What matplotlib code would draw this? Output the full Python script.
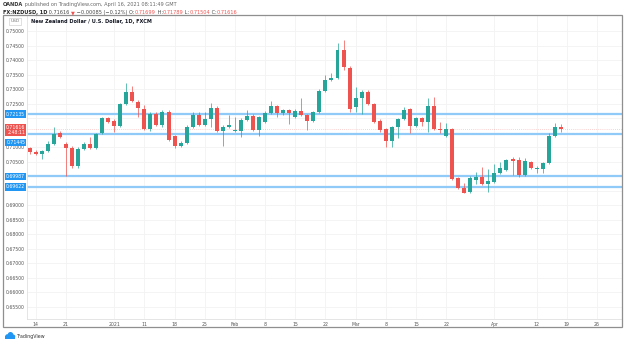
import numpy as np
import pandas as pd
import matplotlib.pyplot as plt
import matplotlib.transforms as mtransforms
from matplotlib.patches import Rectangle, Circle

# NZD/USD daily candles, Dec 11 2020 .. Apr 16 2021
opens = [
    0.70955, 0.70838, 0.70769, 0.70862, 0.71103, 0.71472, 0.71103, 0.70955, 0.70345, 0.70921,
    0.71103, 0.70955, 0.71472, 0.71990, 0.71907, 0.71734, 0.72483, 0.72886, 0.72562, 0.72300,
    0.71610, 0.72138, 0.71759, 0.72207, 0.71379, 0.71045, 0.71148, 0.71700, 0.72103, 0.71759,
    0.71966, 0.72334, 0.71562, 0.71700, 0.71552, 0.71562, 0.71931, 0.72079, 0.71586, 0.71872,
    0.72183, 0.72414, 0.72162, 0.72276, 0.72045, 0.72252, 0.72103, 0.71907, 0.72197, 0.72921,
    0.73310, 0.73390, 0.74345, 0.73734, 0.72369, 0.72679, 0.72907, 0.72483, 0.71907, 0.71610,
    0.71207, 0.71679, 0.71955, 0.72300, 0.71724, 0.71990, 0.71852, 0.72424, 0.71621, 0.71390,
    0.71621, 0.69921, 0.69597, 0.69438, 0.69862, 0.69955, 0.69724, 0.69803, 0.70093, 0.70207,
    0.70576, 0.70552, 0.70034, 0.70493, 0.70241, 0.70241, 0.70438, 0.71379, 0.71699]
highs = [
    0.71010, 0.70897, 0.70897, 0.71207, 0.71700, 0.71562, 0.71172, 0.71034, 0.71000, 0.71183,
    0.71355, 0.71483, 0.72034, 0.72045, 0.71966, 0.72517, 0.73197, 0.73114, 0.72621, 0.72448,
    0.72207, 0.72207, 0.72276, 0.72276, 0.71414, 0.71207, 0.71759, 0.72217, 0.72197, 0.72197,
    0.72507, 0.72414, 0.71759, 0.72103, 0.72045, 0.72000, 0.72276, 0.72138, 0.72069, 0.72241,
    0.72597, 0.72448, 0.72321, 0.72310, 0.72310, 0.72679, 0.72138, 0.72241, 0.73000, 0.73483,
    0.73541, 0.74597, 0.74690, 0.73793, 0.73079, 0.72966, 0.72966, 0.72517, 0.71966, 0.71655,
    0.71724, 0.72000, 0.72369, 0.72345, 0.72034, 0.72034, 0.72679, 0.72734, 0.71872, 0.71817,
    0.71655, 0.69976, 0.69748, 0.70000, 0.70148, 0.70300, 0.70231, 0.70414, 0.70493, 0.70586,
    0.70666, 0.70666, 0.70610, 0.70534, 0.70345, 0.70493, 0.71493, 0.71817, 0.71789]
lows = [
    0.70759, 0.70724, 0.70576, 0.70828, 0.71069, 0.71310, 0.70000, 0.70276, 0.70276, 0.70897,
    0.70931, 0.70931, 0.71448, 0.71828, 0.71528, 0.71690, 0.72448, 0.72552, 0.72045, 0.71586,
    0.71552, 0.71724, 0.71690, 0.71207, 0.70955, 0.71000, 0.71103, 0.71655, 0.71724, 0.71724,
    0.71700, 0.71528, 0.71045, 0.71655, 0.71517, 0.71355, 0.71897, 0.71552, 0.71379, 0.71828,
    0.72138, 0.72024, 0.72103, 0.71783, 0.72000, 0.72069, 0.71586, 0.71862, 0.72172, 0.72897,
    0.73276, 0.73345, 0.73655, 0.72217, 0.72217, 0.72138, 0.72448, 0.71828, 0.71528, 0.70990,
    0.71010, 0.71300, 0.71931, 0.71493, 0.71690, 0.71724, 0.71528, 0.71586, 0.71493, 0.71345,
    0.69862, 0.69552, 0.69397, 0.69414, 0.69724, 0.69690, 0.69459, 0.69759, 0.70069, 0.70172,
    0.70034, 0.69955, 0.70000, 0.70241, 0.70114, 0.70093, 0.70414, 0.71345, 0.71504]
closes = [
    0.70817, 0.70769, 0.70862, 0.71093, 0.71448, 0.71355, 0.70966, 0.70345, 0.70921, 0.71103,
    0.70955, 0.71448, 0.71990, 0.71872, 0.71734, 0.72483, 0.72907, 0.72597, 0.72334, 0.71610,
    0.72138, 0.71759, 0.72207, 0.71241, 0.71045, 0.71148, 0.71700, 0.72103, 0.71759, 0.71966,
    0.72334, 0.71562, 0.71700, 0.71759, 0.71586, 0.71931, 0.72079, 0.71586, 0.72024, 0.72183,
    0.72414, 0.72162, 0.72276, 0.72183, 0.72252, 0.72103, 0.71907, 0.72197, 0.72941, 0.73310,
    0.73390, 0.74345, 0.73748, 0.72300, 0.72679, 0.72907, 0.72483, 0.71872, 0.71586, 0.71207,
    0.71679, 0.71955, 0.72276, 0.71724, 0.71990, 0.71872, 0.72424, 0.71621, 0.71586, 0.71621,
    0.69897, 0.69576, 0.69424, 0.69941, 0.69955, 0.69724, 0.69828, 0.70093, 0.70266, 0.70552,
    0.70528, 0.70034, 0.70517, 0.70266, 0.70276, 0.70438, 0.71379, 0.71700, 0.71616]

# horizontal support / resistance levels
levels = [0.72135, 0.71445, 0.69987, 0.69622]
last_price = 0.71616
countdown = "2:48:11"

tick_dates = ["2020-12-14", "2020-12-21", "2021-01-04", "2021-01-11", "2021-01-18",
              "2021-01-25", "2021-02-01", "2021-02-08", "2021-02-15", "2021-02-22",
              "2021-03-01", "2021-03-08", "2021-03-15", "2021-03-22", "2021-04-01",
              "2021-04-12", "2021-04-19", "2021-04-26"]
tick_labels = ["14", "21", "2021", "11", "18", "25", "Feb", "8", "15", "22",
               "Mar", "8", "15", "22", "Apr", "12", "19", "26"]

# trading calendar (FX closed on Christmas and New Year's Day)
days = pd.bdate_range("2020-12-11", "2021-04-30")
days = days[~days.isin(pd.to_datetime(["2020-12-25", "2021-01-01"]))]
tick_pos = [days.get_loc(pd.Timestamp(d)) for d in tick_dates]

UP, DOWN = "#26a69a", "#ef5350"
W, H = 625, 342


def fx(px):
    return px / W


def fy(py):
    return 1 - py / H


fig = plt.figure(figsize=(W / 100, H / 100), dpi=100)
fig.patch.set_facecolor("white")

ax = fig.add_axes([fx(27), fy(319), fx(622) - fx(27), fy(15) - fy(319)])
ax.set_facecolor("white")

x = np.arange(len(opens))
o = np.array(opens)
c = np.array(closes)
colors = [UP if cc >= oo else DOWN for oo, cc in zip(o, c)]
ax.vlines(x, lows, highs, colors=colors, lw=0.6, alpha=0.85, zorder=3)
body = np.maximum(np.abs(c - o), 0.00006)
ax.bar(x, body, bottom=np.minimum(o, c), width=0.66, color=colors, zorder=4)

for lv in levels:
    ax.axhline(lv, color="#90caf9", lw=1.6, zorder=2)
ax.axhline(last_price, color=DOWN, lw=0.6, ls=(0, (1, 1.5)), alpha=0.35, zorder=1)

ax.set_xlim(-0.45, 98.14)
ax.set_ylim(0.65069, 0.75552)

# price scale; labels sitting under a level box are left out
yt = np.arange(0.655, 0.75001, 0.005)
covered = [0.720, 0.715, 0.700, 0.695]
ax.set_yticks(yt)
ax.set_yticklabels(["" if any(abs(v - cv) < 1e-6 for cv in covered) else f"{v:.5f}"
                    for v in yt])
ax.set_xticks(tick_pos)
ax.set_xticklabels(tick_labels)
ax.tick_params(axis="both", length=0, labelsize=3.3, labelcolor="#555555")
ax.tick_params(axis="y", pad=1.5)
ax.tick_params(axis="x", pad=2.2)
ax.grid(color="#f3f3f3", lw=0.6, zorder=0)
ax.set_axisbelow(True)

for side in ("top", "right"):
    ax.spines[side].set_visible(False)
ax.spines["left"].set_color("#e0e0e0")
ax.spines["bottom"].set_color("#e0e0e0")
ax.spines["left"].set_linewidth(0.6)
ax.spines["bottom"].set_linewidth(0.6)

# price scale labels for the levels (the one under the live price is pushed down)
blend = mtransforms.blended_transform_factory(ax.transAxes, ax.transData)
label_shift = {0.71445: -6.0}
for lv in levels:
    ax.annotate(f"{lv:.5f}", xy=(0, lv), xycoords=blend,
                xytext=(-1.2, label_shift.get(lv, 0)), textcoords="offset points",
                ha="right", va="center", fontsize=3.3, color="white",
                bbox=dict(boxstyle="square,pad=0.25", fc="#2196f3", ec="none"),
                annotation_clip=False, zorder=6)
ax.annotate(f"{last_price:.5f}\n{countdown}", xy=(0, last_price), xycoords=blend,
            xytext=(-1.2, -0.6), textcoords="offset points",
            ha="right", va="center", fontsize=3.3, color="white", linespacing=1.0,
            bbox=dict(boxstyle="square,pad=0.25", fc=DOWN, ec="none"),
            annotation_clip=False, zorder=7)

# outer frame
fig.patches.append(Rectangle((fx(3), fy(327)), fx(622) - fx(3), fy(15) - fy(327),
                             transform=fig.transFigure, fill=False,
                             ec="#8f8f8f", lw=0.9))

fig.text(fx(15), fy(21.5), "USD", fontsize=3.2, color="#777777", ha="center", va="center",
         bbox=dict(boxstyle="square,pad=0.3", fc="white", ec="#c8c8c8", lw=0.4))
fig.text(fx(31), fy(22), "New Zealand Dollar / U.S. Dollar, 1D, FXCM",
         fontsize=3.6, weight="bold", color="#131722", va="center")

renderer = fig.canvas.get_renderer()


def text_row(parts, x0, y):
    xpos = x0
    for s, color, weight in parts:
        t = fig.text(xpos, y, s, fontsize=3.6, color=color, weight=weight, va="center")
        bb = t.get_window_extent(renderer)
        xpos = fig.transFigure.inverted().transform((bb.x1, bb.y0))[0]


text_row([("OANDA", "#333333", "bold"),
          (" published on TradingView.com, April 16, 2021 08:11:49 GMT", "#666666", "normal")],
         fx(3), fy(4.5))
text_row([("FX:NZDUSD, 1D", "#222222", "bold"),
          (" 0.71616 ", "#444444", "normal"),
          ("▼", DOWN, "normal"),
          (" \u22120.00085 (\u22120.12%) O:", "#444444", "normal"),
          ("0.71699", DOWN, "normal"),
          (" H:", "#444444", "normal"),
          ("0.71789", DOWN, "normal"),
          (" L:", "#444444", "normal"),
          ("0.71504", DOWN, "normal"),
          (" C:", "#444444", "normal"),
          ("0.71616", DOWN, "normal")],
         fx(3), fy(12.5))

# TradingView mark at the bottom left
logo = "#2196f3"
for cx, cy, r in [(7.5, 336.5, 2.3), (10.5, 334.8, 2.8), (13.2, 336.6, 2.1)]:
    fig.patches.append(Circle((cx / 100, (H - cy) / 100), r / 100,
                              transform=fig.dpi_scale_trans, fc=logo, ec="none"))
fig.patches.append(Rectangle((5.2 / 100, (H - 339) / 100), 10 / 100, 2.6 / 100,
                             transform=fig.dpi_scale_trans, fc=logo, ec="none"))
fig.text(fx(16.5), fy(336.5), "TradingView", fontsize=3.4, color="#333333", va="center")

fig.savefig("out.png", dpi=100)
